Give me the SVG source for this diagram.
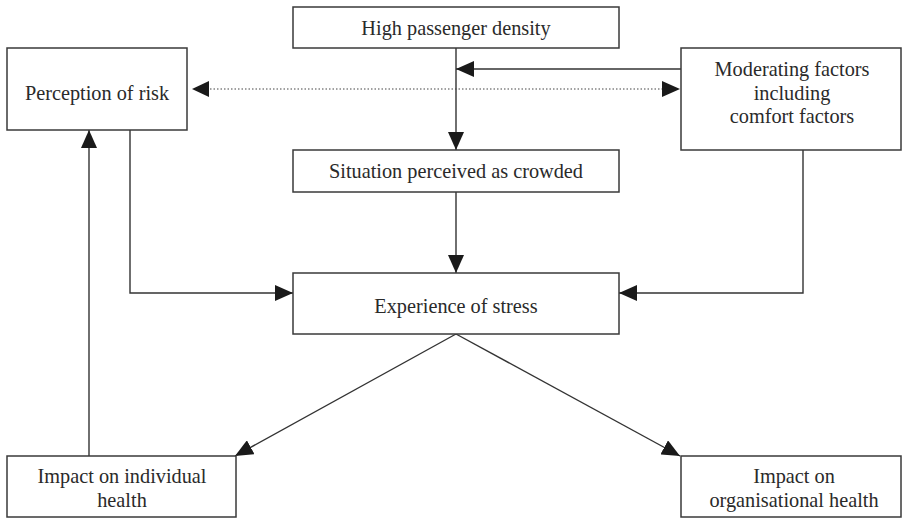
<svg xmlns="http://www.w3.org/2000/svg" width="902" height="518" viewBox="0 0 902 518">
<style>
.box{fill:#fff;stroke:#3a3a3a;stroke-width:1.5}
.lbl{font-family:"Liberation Serif","Times New Roman",serif;font-size:20.3px;fill:#2a2a2a;text-anchor:middle}
.ln{fill:none;stroke:#333;stroke-width:1.4}
.dot{fill:none;stroke:#444;stroke-width:1.2;stroke-dasharray:1.5 2}
</style>
<defs>
<marker id="ah" markerUnits="userSpaceOnUse" markerWidth="18" markerHeight="16" viewBox="0 0 18 16" refX="18" refY="8" orient="auto">
<path d="M0,0 L18,8 L0,16 Z" fill="#1a1a1a"/>
</marker>
</defs>
<g id="connectors">
<line class="ln" x1="456" y1="48" x2="456" y2="150" marker-end="url(#ah)"/>
<line class="ln" x1="681" y1="69" x2="456" y2="69" marker-end="url(#ah)"/>
<line class="dot" x1="210" y1="89" x2="662" y2="89"/>
<path d="M209,81 L192,89 L209,97 Z" fill="#1a1a1a"/>
<path d="M662,81 L680,89 L662,97 Z" fill="#1a1a1a"/>
<line class="ln" x1="456" y1="192" x2="456" y2="273" marker-end="url(#ah)"/>
<polyline class="ln" points="130,130 130,293 293,293" marker-end="url(#ah)"/>
<polyline class="ln" points="803,150 803,293 619,293" marker-end="url(#ah)"/>
<line class="ln" x1="89" y1="456" x2="89" y2="130" marker-end="url(#ah)"/>
<line class="ln" x1="456" y1="334" x2="235" y2="456" marker-end="url(#ah)"/>
<line class="ln" x1="456" y1="334" x2="680" y2="456" marker-end="url(#ah)"/>
</g>
<g id="high-density">
<rect class="box" x="293" y="7" width="326" height="41"/>
<text class="lbl" x="456" y="35">High passenger density</text>
</g>
<g id="perception-risk">
<rect class="box" x="7" y="48" width="180" height="82"/>
<text class="lbl" x="97" y="100">Perception of risk</text>
</g>
<g id="moderating">
<rect class="box" x="681" y="48" width="220" height="102"/>
<text class="lbl" x="792" y="76">Moderating factors</text>
<text class="lbl" x="792" y="100">including</text>
<text class="lbl" x="792" y="123">comfort factors</text>
</g>
<g id="situation">
<rect class="box" x="293" y="150" width="326" height="42"/>
<text class="lbl" x="456" y="178">Situation perceived as crowded</text>
</g>
<g id="stress">
<rect class="box" x="293" y="273" width="326" height="61"/>
<text class="lbl" x="456" y="313">Experience of stress</text>
</g>
<g id="individual">
<rect class="box" x="7" y="456" width="229" height="61"/>
<text class="lbl" x="122" y="483">Impact on individual</text>
<text class="lbl" x="122" y="507">health</text>
</g>
<g id="organisational">
<rect class="box" x="681" y="456" width="220" height="61"/>
<text class="lbl" x="794" y="483">Impact on</text>
<text class="lbl" x="794" y="507">organisational health</text>
</g>
</svg>
